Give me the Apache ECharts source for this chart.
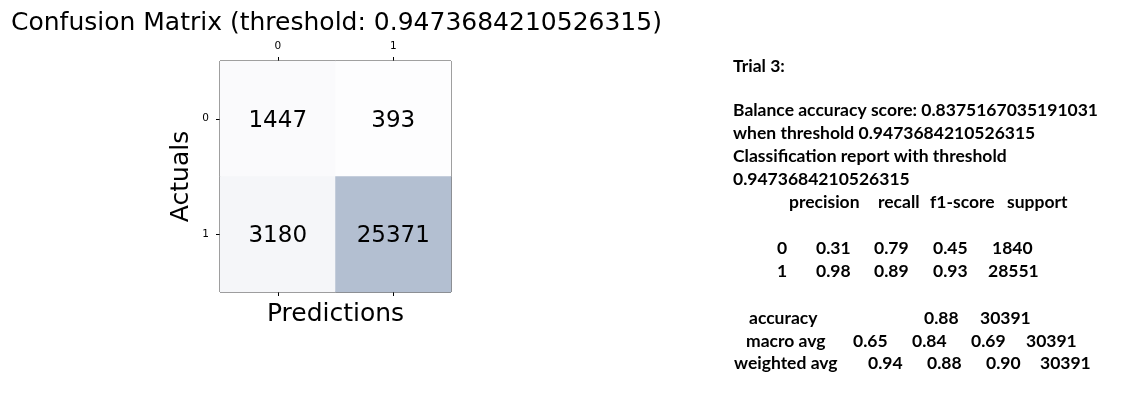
<!DOCTYPE html>
<html><head><meta charset="utf-8">
<script src="https://cdn.jsdelivr.net/npm/echarts@6/dist/echarts.min.js"></script>
<style>html,body{margin:0;padding:0;background:#fff}#c{width:1140px;height:416px}</style>
</head><body><div id="c"></div>
<script>
const predLabels = ['0', '1'];
const actualLabels = ['0', '1'];
// [predIndex, actualIndex, count]
const cells = [[0, 0, 1447], [1, 0, 393], [0, 1, 3180], [1, 1, 25371]];
const threshold = '0.9473684210526315';
const balancedAcc = '0.8375167035191031';
const reportHeader = ['precision', 'recall', 'f1-score', 'support'];
const classNames = ['0', '1'];
const classRows = [['0.31', '0.79', '0.45', '1840'], ['0.98', '0.89', '0.93', '28551']];
const accuracyRow = ['accuracy', '0.88', '30391'];
const macroRow = ['macro avg', '0.65', '0.84', '0.69', '30391'];
const weightedRow = ['weighted avg', '0.94', '0.88', '0.90', '30391'];

const chart = echarts.init(document.getElementById('c'));
const txtFont = 'Lato, "Open Sans", sans-serif';
const fs = 17.5;
const g = [];
function t(str, x, y) {
  g.push({type: 'text', x: x, y: y, style: {text: str, x: 0, y: 0, verticalAlign: 'middle', align: 'left',
    font: 'bold ' + fs + 'px ' + txtFont, fill: '#000'}});
}
t('Trial 3:', 733, 66);
t('Balance accuracy score: ' + balancedAcc, 733, 110);
t('when threshold ' + threshold, 733, 133);
t('Classification report with threshold', 733, 156);
t(threshold, 733, 179);
const hx = [789, 878, 930, 1007];
reportHeader.forEach((h, i) => t(h, hx[i], 202));
const rx = [777, 816, 874, 933];
const sx = [992, 988];
classRows.forEach((row, r) => {
  const y = r === 0 ? 248 : 271;
  t(classNames[r], rx[0], y);
  row.forEach((v, i) => t(v, i < 3 ? rx[i + 1] : sx[r], y));
});
const ax = [749, 924, 980];
accuracyRow.forEach((v, i) => t(v, ax[i], 318));
const mx = [746, 853, 912, 971, 1026];
macroRow.forEach((v, i) => t(v, mx[i], 341));
const wx = [734, 868, 927, 986, 1040];
weightedRow.forEach((v, i) => t(v, wx[i], 363));

const vals = cells.map(c => c[2]);
const baseFont = 'DejaVu Sans';
chart.setOption({
  animation: false,
  title: {text: 'Confusion Matrix (threshold: ' + threshold + ')', left: 6, top: 6,
    textStyle: {fontFamily: baseFont, fontSize: 25, fontWeight: 'normal', color: '#000'}},
  grid: {left: 220, top: 61, width: 231, height: 231, show: true, borderColor: '#000', borderWidth: 1, backgroundColor: 'transparent'},
  xAxis: [
    {type: 'category', data: predLabels, position: 'top', axisLine: {show: false}, splitLine: {show: false},
      axisTick: {show: true, alignWithLabel: true, length: 4, lineStyle: {color: '#000'}},
      axisLabel: {fontFamily: baseFont, fontSize: 10.5, color: '#000', margin: 9}},
    {type: 'category', data: predLabels, position: 'bottom', axisLine: {show: false}, splitLine: {show: false},
      axisTick: {show: true, alignWithLabel: true, length: 4, lineStyle: {color: '#000'}},
      axisLabel: {show: false},
      name: 'Predictions', nameLocation: 'middle', nameGap: 10,
      nameTextStyle: {fontFamily: baseFont, fontSize: 25, color: '#000'}}
  ],
  yAxis: {type: 'category', data: actualLabels, inverse: true, axisLine: {show: false}, splitLine: {show: false},
    axisTick: {show: true, alignWithLabel: true, length: 4, lineStyle: {color: '#000'}},
    axisLabel: {fontFamily: baseFont, fontSize: 10.5, color: '#000', margin: 11},
    name: 'Actuals', nameLocation: 'middle', nameGap: 26, nameRotate: 90,
    nameTextStyle: {fontFamily: baseFont, fontSize: 25, color: '#000'}},
  visualMap: {show: false, min: Math.min(...vals), max: Math.max(...vals), dimension: 2,
    inRange: {color: ['#fdfdfe', '#b3bfd1']}},
  series: [{type: 'heatmap', data: cells, xAxisIndex: 0,
    label: {show: true, fontFamily: baseFont, fontSize: 23, color: '#000', offset: [0, 2], formatter: p => String(p.value[2])},
    itemStyle: {borderWidth: 0}}],
  graphic: g
});
</script></body></html>
